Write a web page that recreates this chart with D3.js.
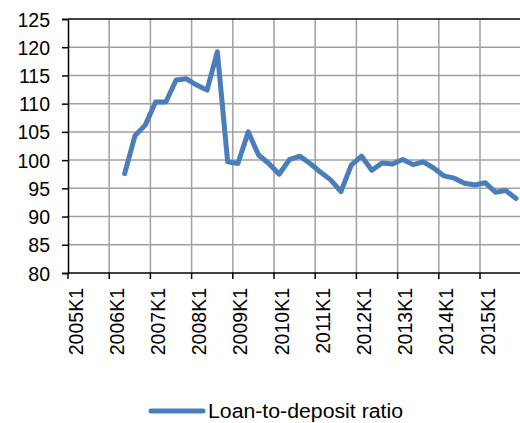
<!DOCTYPE html>
<html>
<head>
<meta charset="utf-8">
<script src="https://cdn.jsdelivr.net/npm/d3@7"></script>
<style>
  html, body { margin: 0; padding: 0; background: #fff; }
  svg { display: block; font-family: "Liberation Sans", Arial, sans-serif; }
</style>
</head>
<body>
<svg id="chart" width="520" height="423"></svg>
<script>
const years = [2005, 2006, 2007, 2008, 2009, 2010, 2011, 2012, 2013, 2014, 2015];
const quarters = [1, 2, 3, 4];
const categories = years.flatMap(y => quarters.map(q => y + "K" + q));
const values = [
  null, null, null, null,
  null, 97.6, 104.3, 106.2,
  110.3, 110.3, 114.2, 114.4,
  113.3, 112.4, 119.2, 99.7,
  99.4, 105.0, 100.9, 99.4,
  97.5, 100.1, 100.7, 99.4,
  97.9, 96.5, 94.4, 99.1,
  100.7, 98.2, 99.5, 99.3,
  100.1, 99.2, 99.7, 98.6,
  97.2, 96.8, 95.9, 95.6,
  96.0, 94.3, 94.6, 93.2
];
const yTicks = [80, 85, 90, 95, 100, 105, 110, 115, 120, 125];
const xTickLabels = years.map(y => y + "K1");
const seriesName = "Loan-to-deposit ratio";

const svg = d3.select("#chart");
const mLeft = 68, mTop = 19, mBottom = 273, bandW = 10.3;
const mRight = mLeft + categories.length * bandW;

const x = d3.scaleBand().domain(categories).range([mLeft, mRight]).padding(0);
const y = d3.scaleLinear().domain([80, 125]).range([mBottom, mTop]);

const grid = svg.append("g");
grid.selectAll("line.h").data(yTicks.filter(t => t > 80 && t < 125)).enter()
  .append("line")
  .attr("x1", mLeft).attr("x2", 520)
  .attr("y1", d => y(d)).attr("y2", d => y(d))
  .attr("stroke", "#a0a0a0").attr("stroke-width", 1.5);
grid.selectAll("line.v").data(xTickLabels.slice(1)).enter()
  .append("line")
  .attr("x1", d => x(d)).attr("x2", d => x(d))
  .attr("y1", mTop).attr("y2", mBottom)
  .attr("stroke", "#a0a0a0").attr("stroke-width", 1.5);
svg.append("line").attr("x1", mLeft).attr("x2", 520).attr("y1", y(125)).attr("y2", y(125))
  .attr("stroke", "#000").attr("stroke-width", 1.5);

// Y axis
const yAxis = d3.axisLeft(y).tickValues(yTicks).tickSize(6).tickPadding(12);
const gy = svg.append("g").attr("transform", `translate(${mLeft},0)`).call(yAxis);
gy.select(".domain").attr("stroke", "#000").attr("stroke-width", 1.5);
gy.selectAll(".tick line").attr("stroke", "#000").attr("stroke-width", 1.5);
gy.selectAll(".tick text").attr("font-size", "19.5px").attr("fill", "#000")
  .attr("font-family", "Liberation Sans, Arial, sans-serif").attr("dy", "0.36em");

// X axis
const xAxis = d3.axisBottom(x).tickValues(xTickLabels).tickSize(6).tickFormat(d => d);
const gx = svg.append("g").attr("transform", `translate(0,${mBottom})`).call(xAxis);
gx.selectAll(".tick").attr("transform", d => `translate(${x(d)},0)`);
gx.select(".domain").attr("d", `M${mLeft},0H520`).attr("stroke", "#000").attr("stroke-width", 1.5);
gx.selectAll(".tick line").attr("stroke", "#000").attr("stroke-width", 1.5);
gx.selectAll(".tick text")
  .attr("font-size", "19.5px").attr("fill", "#000")
  .attr("font-family", "Liberation Sans, Arial, sans-serif")
  .attr("text-anchor", "end")
  .attr("y", 0).attr("dy", 0)
  .attr("transform", "translate(14.5,15) rotate(-90)");

// Line
const line = d3.line()
  .defined(d => d.v !== null)
  .x(d => x(d.c) + x.bandwidth() / 2)
  .y(d => y(d.v));
const data = categories.map((c, i) => ({ c, v: values[i] }));
svg.append("path").datum(data)
  .attr("d", line)
  .attr("fill", "none")
  .attr("stroke", "#4a7ebb")
  .attr("stroke-width", 5)
  .attr("stroke-linejoin", "round")
  .attr("stroke-linecap", "round");

// Legend
const lg = svg.append("g");
lg.append("line").attr("x1", 151).attr("x2", 203).attr("y1", 411).attr("y2", 411)
  .attr("stroke", "#4a7ebb").attr("stroke-width", 5).attr("stroke-linecap", "round");
lg.append("text").attr("x", 208).attr("y", 418)
  .attr("font-size", "19.5px").attr("fill", "#000")
  .attr("textLength", 195).attr("lengthAdjust", "spacingAndGlyphs")
  .text(seriesName);
</script>
</body>
</html>
